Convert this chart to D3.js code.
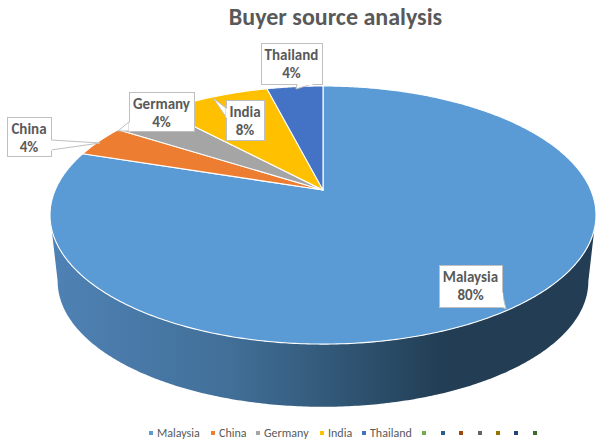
<!DOCTYPE html>
<html><head><meta charset="utf-8">
<script src="https://cdn.jsdelivr.net/npm/d3@7/dist/d3.min.js"></script>
<style>html,body{margin:0;padding:0;background:#fff}svg{display:block}</style>
</head><body><svg id="c" width="611" height="446"></svg>
<script>
const categories = ["Malaysia","China","Germany","India","Thailand"];
const values = [80,4,4,8,4];
const sliceColors = ["#5B9BD5","#ED7D31","#A5A5A5","#FFC000","#4472C4"];
const extraLegendColors = ["#70AD47","#255E91","#9E480E","#636363","#997300","#264478","#43682B"];
const titleText = "Buyer source analysis";

const svg = d3.select("#c");
const W=611,H=446;
svg.append("rect").attr("width",W).attr("height",H).attr("fill","#fff");
const font="Carlito,Calibri,'Open Sans','Liberation Sans',sans-serif";

const cx=323, apexY=190, k=-0.194, sx=267.8, sy=124.2;
const project=(a,scale=1,dy=0)=>{
  const X=Math.sin(a),Y=-Math.cos(a),w=1+k*Y;
  return [cx+scale*sx*X/w, apexY+dy+scale*sy*Y/w];
};
const pie=d3.pie().sort(null)(values);
const line=d3.line();
const arcPts=(a0,a1,scale=1,dy=0)=>{
  const n=Math.max(2,Math.ceil((a1-a0)/0.01));
  return d3.range(n+1).map(i=>project(a0+(a1-a0)*i/n,scale,dy));
};

const defs=svg.append("defs");
const grad=defs.append("linearGradient").attr("id","wall").attr("gradientUnits","userSpaceOnUse")
  .attr("x1",50).attr("x2",596).attr("y1",0).attr("y2",0);
[[0,"#4F82B5"],[0.33,"#416F98"],[0.55,"#2F5472"],[0.72,"#223D54"],[1,"#223D54"]]
  .forEach(s=>grad.append("stop").attr("offset",s[0]).attr("stop-color",s[1]));

const aR=Math.acos(k), aL=2*Math.PI-aR;
const depth=67, bScale=0.972;
const rimTop=arcPts(aR,aL);
const rimBot=arcPts(aR,aL,bScale,depth).reverse();
svg.append("path").attr("d",line(rimTop.concat(rimBot))+"Z").attr("fill","url(#wall)");

pie.forEach((d,i)=>{
  svg.append("path")
    .attr("d",line([[cx,apexY]].concat(arcPts(d.startAngle,d.endAngle)))+"Z")
    .attr("fill",sliceColors[i]).attr("stroke","#fff").attr("stroke-width",1.1).attr("stroke-linejoin","round");
});

svg.append("text").attr("x",335.5).attr("y",25).attr("text-anchor","middle")
  .attr("font-family",font).attr("font-size",24).attr("font-weight",700).attr("fill","#595959").text(titleText);

const boxes=[[439,265,63,42],[7,117,44,39],[129,92,65,39],[226,100,38,40],[261,43,61,41]];
const tips=[[506,309],[100,143],[118,131],[213,98],[296,89]];
const leaders=[
  [[502,292],[502,307]],
  [[51,140],[51,150]],
  [[129,122],[129,131]],
  [[226,108],[226,117]],
  [[297,84],[312,84]]
];
categories.forEach((c,i)=>{
  const b=boxes[i],t=tips[i],l=leaders[i];
  svg.append("path").attr("d",line([l[0],t,l[1]])+"Z").attr("fill","#fff").attr("stroke","#bfbfbf").attr("stroke-width",1);
  svg.append("rect").attr("x",b[0]+.5).attr("y",b[1]+.5).attr("width",b[2]).attr("height",b[3]).attr("fill","#fff").attr("stroke","#bfbfbf");
  svg.append("line").attr("x1",l[0][0]+.5).attr("y1",l[0][1]+.5).attr("x2",l[1][0]+.5).attr("y2",l[1][1]+.5).attr("stroke","#fff").attr("stroke-width",1.2);
  const tx=svg.append("text").attr("text-anchor","middle").attr("font-family",font).attr("font-size",15).attr("font-weight",700).attr("fill","#595959");
  tx.append("tspan").attr("x",b[0]+b[2]/2).attr("y",b[1]+17).text(c);
  tx.append("tspan").attr("x",b[0]+b[2]/2).attr("y",b[1]+35).text(values[i]+"%");
});

const legendX=[147,209,254,318,360];
const legend=svg.append("g").attr("font-family",font).attr("font-size",12).attr("fill","#595959");
categories.forEach((c,i)=>{
  legend.append("rect").attr("x",legendX[i]+2).attr("y",431).attr("width",4).attr("height",4).attr("fill",sliceColors[i]);
  legend.append("text").attr("x",legendX[i]+10).attr("y",437).text(c);
});
const extraX=[422,441,459,478,496,514,533];
extraLegendColors.forEach((col,i)=>{
  legend.append("rect").attr("x",extraX[i]).attr("y",431).attr("width",4).attr("height",4).attr("fill",col);
});
</script></body></html>
